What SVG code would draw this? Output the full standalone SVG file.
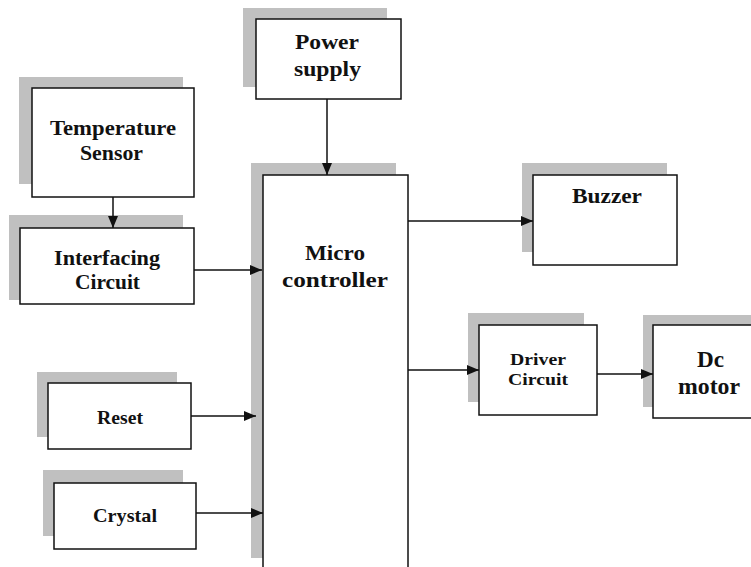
<svg xmlns="http://www.w3.org/2000/svg" width="751" height="567" viewBox="0 0 751 567">
<style>
.sh{fill:#c0c0c0;stroke:none}
.bx{fill:#fff;stroke:#111;stroke-width:1.5}
.t{font-family:"Liberation Serif","Times New Roman",serif;font-weight:bold;fill:#111}
.ln{stroke:#111;stroke-width:1.5;fill:none}
</style>
<defs>
<marker id="ah" markerUnits="userSpaceOnUse" markerWidth="12" markerHeight="10" refX="12" refY="5" orient="auto">
<path d="M0,0 L12,5 L0,10 z" fill="#111"/>
</marker>
</defs>
<rect width="751" height="567" fill="#fff"/>
<g id="temp">
<rect class="sh" x="19" y="77" width="164" height="107"/>
<rect class="bx" x="32" y="88" width="162" height="109"/>
<text class="t" x="50" y="135" font-size="20" textLength="126" lengthAdjust="spacingAndGlyphs">Temperature</text>
<text class="t" x="80" y="160" font-size="20" textLength="63" lengthAdjust="spacingAndGlyphs">Sensor</text>
</g>
<g id="interfacing">
<rect class="sh" x="9" y="215" width="174" height="85"/>
<rect class="bx" x="20" y="228" width="174" height="76"/>
<text class="t" x="54" y="265" font-size="20" textLength="106" lengthAdjust="spacingAndGlyphs">Interfacing</text>
<text class="t" x="75" y="289" font-size="20" textLength="65" lengthAdjust="spacingAndGlyphs">Circuit</text>
</g>
<g id="power">
<rect class="sh" x="243" y="8" width="144" height="79"/>
<rect class="bx" x="256" y="19" width="145" height="80"/>
<text class="t" x="295" y="49" font-size="21" textLength="64" lengthAdjust="spacingAndGlyphs">Power</text>
<text class="t" x="294" y="76" font-size="21" textLength="67" lengthAdjust="spacingAndGlyphs">supply</text>
</g>
<g id="micro">
<rect class="sh" x="251" y="163" width="145" height="395"/>
<rect class="bx" x="263" y="175" width="145" height="400"/>
<text class="t" x="305" y="260" font-size="20" textLength="60" lengthAdjust="spacingAndGlyphs">Micro</text>
<text class="t" x="282" y="287" font-size="20" textLength="106" lengthAdjust="spacingAndGlyphs">controller</text>
</g>
<g id="reset">
<rect class="sh" x="37" y="372" width="140" height="65"/>
<rect class="bx" x="48" y="383" width="143" height="66"/>
<text class="t" x="97" y="424" font-size="19" textLength="46" lengthAdjust="spacingAndGlyphs">Reset</text>
</g>
<g id="crystal">
<rect class="sh" x="43" y="470" width="140" height="66"/>
<rect class="bx" x="54" y="483" width="142" height="66"/>
<text class="t" x="93" y="522" font-size="19" textLength="64" lengthAdjust="spacingAndGlyphs">Crystal</text>
</g>
<g id="buzzer">
<rect class="sh" x="522" y="163" width="145" height="89"/>
<rect class="bx" x="533" y="175" width="144" height="90"/>
<text class="t" x="572" y="203" font-size="20" textLength="70" lengthAdjust="spacingAndGlyphs">Buzzer</text>
</g>
<g id="driver">
<rect class="sh" x="468" y="313" width="116" height="89"/>
<rect class="bx" x="479" y="325" width="118" height="90"/>
<text class="t" x="510" y="365" font-size="17" textLength="56" lengthAdjust="spacingAndGlyphs">Driver</text>
<text class="t" x="508" y="385" font-size="17" textLength="60" lengthAdjust="spacingAndGlyphs">Circuit</text>
</g>
<g id="dcmotor">
<rect class="sh" x="643" y="315" width="120" height="92"/>
<rect class="bx" x="653" y="325" width="110" height="93"/>
<text class="t" x="697" y="367" font-size="24" textLength="27" lengthAdjust="spacingAndGlyphs">Dc</text>
<text class="t" x="678" y="394" font-size="24" textLength="62" lengthAdjust="spacingAndGlyphs">motor</text>
</g>
<g id="connectors">
<line class="ln" x1="113" y1="197" x2="113" y2="228" marker-end="url(#ah)"/>
<line class="ln" x1="327" y1="99" x2="327" y2="175" marker-end="url(#ah)"/>
<line class="ln" x1="194" y1="270" x2="262" y2="270" marker-end="url(#ah)"/>
<line class="ln" x1="191" y1="416" x2="256" y2="416" marker-end="url(#ah)"/>
<line class="ln" x1="196" y1="513" x2="263" y2="513" marker-end="url(#ah)"/>
<line class="ln" x1="408" y1="221" x2="533" y2="221" marker-end="url(#ah)"/>
<line class="ln" x1="408" y1="370" x2="479" y2="370" marker-end="url(#ah)"/>
<line class="ln" x1="597" y1="374" x2="653" y2="374" marker-end="url(#ah)"/>
</g>
</svg>
